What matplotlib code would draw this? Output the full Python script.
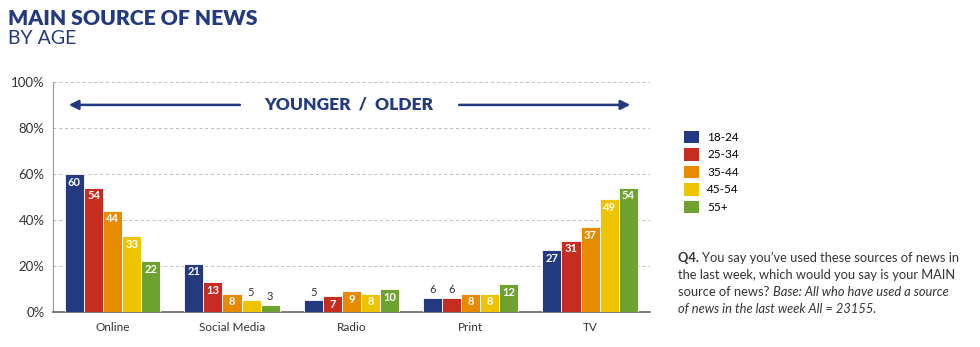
import matplotlib

matplotlib.use("Agg")
import matplotlib.pyplot as plt
import numpy as np
from matplotlib.patches import Patch

NAVY = "#233a80"
COLORS = ["#233a80", "#c62c1f", "#e68a00", "#eec400", "#70a230"]

sources = ["Online", "Social Media", "Radio", "Print", "TV"]
ages = ["18-24", "25-34", "35-44", "45-54", "55+"]
age_18_24 = [60, 21, 5, 6, 27]
age_25_34 = [54, 13, 7, 6, 31]
age_35_44 = [44, 8, 9, 8, 37]
age_45_54 = [33, 5, 8, 8, 49]
age_55_plus = [22, 3, 10, 12, 54]
series = [age_18_24, age_25_34, age_35_44, age_45_54, age_55_plus]

plt.rcParams["font.family"] = ["Lato", "DejaVu Sans"]

fig = plt.figure(figsize=(9.8, 3.47), dpi=100)
ax = fig.add_axes([0.054, 0.101, 0.609, 0.663])

x = np.arange(len(sources))
w = 0.16
for i, (vals, col) in enumerate(zip(series, COLORS)):
    pos = x + (i - 2) * w
    ax.bar(pos, vals, w, color=col, edgecolor="white", lw=0.6, zorder=3)
    for p, v in zip(pos, vals):
        if v >= 7:
            ax.text(p, v - 1.2, str(v), ha="center", va="top", fontsize=8,
                    color="white", fontweight="bold", zorder=4)
        else:
            ax.text(p, v + 1.2, str(v), ha="center", va="bottom", fontsize=8,
                    color="#333333", zorder=4)

ax.set_xlim(-0.5, 4.5)
ax.set_ylim(0, 100)
ax.set_yticks(range(0, 101, 20))
ax.set_yticklabels([f"{t}%" for t in range(0, 101, 20)], fontsize=9.5, color="#333333")
ax.set_xticks(x)
ax.set_xticklabels(sources, fontsize=8.5, color="#333333")
ax.tick_params(length=0, pad=6)
ax.tick_params(axis="x", pad=7)
ax.yaxis.grid(True, ls=(0, (3, 3)), color="#bbbbbb", lw=0.7, zorder=0)
ax.spines[["top", "right"]].set_visible(False)
ax.spines["left"].set_color("#999999")
ax.spines["bottom"].set_color("#666666")
ax.spines["bottom"].set_linewidth(1.2)

# younger / older banner
ax.annotate("", xy=(-0.39, 90), xytext=(1.09, 90),
            arrowprops=dict(arrowstyle="-|>", color=NAVY, lw=1.8, mutation_scale=14))
ax.annotate("", xy=(4.36, 90), xytext=(2.88, 90),
            arrowprops=dict(arrowstyle="-|>", color=NAVY, lw=1.8, mutation_scale=14))
ax.text(1.98, 90, "YOUNGER  /  OLDER", ha="center", va="center", fontsize=12.5,
        fontweight="heavy", color=NAVY)

fig.text(0.008, 0.948, "MAIN SOURCE OF NEWS", fontsize=15.2, fontweight="heavy",
         color=NAVY, va="center")
fig.text(0.008, 0.89, "BY AGE", fontsize=14, color=NAVY, va="center")

handles = [Patch(facecolor=c, edgecolor="none") for c in COLORS]
fig.legend(handles, ages, loc="upper left", bbox_to_anchor=(0.692, 0.64),
           frameon=False, fontsize=8.5, handlelength=1.25, handleheight=1.25,
           handletextpad=0.7, labelspacing=0.42, borderpad=0)

# footnote, built from pieces so bold / italic can mix on one line
renderer = fig.canvas.get_renderer()
fx = 0.692
fs = 9.3
ink = "#333333"
line_y = [1 - 258 / 347, 1 - 275 / 347, 1 - 292 / 347, 1 - 309 / 347]
pieces = [
    [("Q4. ", "bold", "normal"),
     ("You say you\u2019ve used these sources of news in", "normal", "normal")],
    [("the last week, which would you say is your MAIN", "normal", "normal")],
    [("source of news? ", "normal", "normal"),
     ("Base: All who have used a source", "normal", "italic")],
    [("of news in the last week All = 23155.", "normal", "italic")],
]
for yy, line in zip(line_y, pieces):
    cx = fx
    for s, wt, st in line:
        t = fig.text(cx, yy, s, fontsize=fs, fontweight=wt, style=st,
                     color=ink, va="center")
        bb = t.get_window_extent(renderer)
        cx += bb.width / fig.bbox.width

fig.savefig("out.png", dpi=100)
